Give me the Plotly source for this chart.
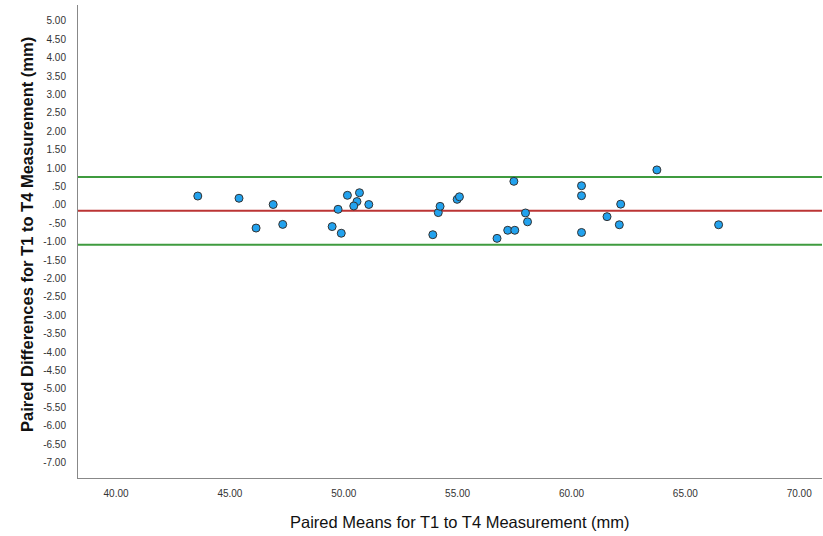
import plotly.graph_objects as go

paired_means = [43.59, 45.40, 46.90, 46.15, 47.32, 49.49, 49.89, 49.75, 50.16, 50.69,
                50.58, 50.44, 51.10, 53.91, 54.15, 54.23, 54.98, 55.08, 56.73, 57.20,
                57.51, 57.47, 57.98, 58.07, 60.44, 60.44, 60.44, 61.56, 62.10, 62.16,
                63.75, 66.46]
paired_diffs = [0.24, 0.18, 0.01, -0.63, -0.53, -0.59, -0.77, -0.12, 0.26, 0.33,
                0.09, -0.03, 0.01, -0.81, -0.21, -0.04, 0.15, 0.22, -0.91, -0.69,
                -0.69, 0.64, -0.22, -0.46, 0.52, 0.25, -0.75, -0.32, -0.54, 0.02,
                0.95, -0.54]
mean_diff = -0.16
upper_loa = 0.76
lower_loa = -1.08

x_tick_vals = [40, 45, 50, 55, 60, 65, 70]
x_tick_text = ["40.00", "45.00", "50.00", "55.00", "60.00", "65.00", "70.00"]
y_tick_vals = [5.0, 4.5, 4.0, 3.5, 3.0, 2.5, 2.0, 1.5, 1.0, 0.5, 0.0, -0.5, -1.0, -1.5,
               -2.0, -2.5, -3.0, -3.5, -4.0, -4.5, -5.0, -5.5, -6.0, -6.5, -7.0]
y_tick_text = ["5.00", "4.50", "4.00", "3.50", "3.00", "2.50", "2.00", "1.50", "1.00",
               ".50", ".00", "-.50", "-1.00", "-1.50", "-2.00", "-2.50", "-3.00", "-3.50",
               "-4.00", "-4.50", "-5.00", "-5.50", "-6.00", "-6.50", "-7.00"]

x_range = [38.33, 71.0]
y_range = [-7.42, 5.43]

fig = go.Figure()

# reference lines
for val, col in [(upper_loa, "#3f9b3f"), (lower_loa, "#3f9b3f"), (mean_diff, "#bb3535")]:
    fig.add_trace(go.Scatter(x=x_range, y=[val, val], mode="lines",
                             line=dict(color=col, width=2), hoverinfo="skip",
                             showlegend=False))

fig.add_trace(go.Scatter(
    x=paired_means, y=paired_diffs, mode="markers",
    marker=dict(size=8, color="#22a2ee", line=dict(color="#333333", width=1)),
    showlegend=False))

fig.update_layout(
    width=823, height=536,
    margin=dict(l=78, r=1, t=5, b=58),
    paper_bgcolor="white", plot_bgcolor="white",
    font=dict(family="Liberation Sans Narrow, Liberation Sans, Arial", color="#222"),
    xaxis=dict(range=x_range, tickvals=x_tick_vals, ticktext=x_tick_text,
               showgrid=False, zeroline=False, showline=True, linecolor="#888",
               linewidth=1, ticks="", tickfont=dict(size=10, color="#333"),
               ticklabelstandoff=6),
    yaxis=dict(range=y_range, tickvals=y_tick_vals, ticktext=y_tick_text,
               showgrid=False, zeroline=False, showline=True, linecolor="#888",
               linewidth=1, ticks="", tickfont=dict(size=10, color="#333"),
               ticklabelstandoff=9),
    annotations=[
        dict(text="Paired Means for T1 to T4 Measurement (mm)", xref="paper", yref="paper",
             x=(460 - 78) / (823 - 79), y=-(522 - 478) / 473, xanchor="center", yanchor="middle",
             showarrow=False, font=dict(size=16.5, color="#111",
                                        family="Liberation Sans Narrow, Liberation Sans, Arial")),
        dict(text="<b>Paired Differences for T1 to T4 Measurement (mm)</b>", xref="paper", yref="paper",
             x=-(78 - 27) / (823 - 79), y=(478 - 235) / 473, xanchor="center", yanchor="middle",
             textangle=-90, showarrow=False,
             font=dict(size=16.5, color="#111", family="Liberation Sans, Arial")),
    ],
)

fig.write_html("out.html", config={"displayModeBar": False},
               post_script="document.body.style.margin='0px';document.body.style.padding='0px';")
